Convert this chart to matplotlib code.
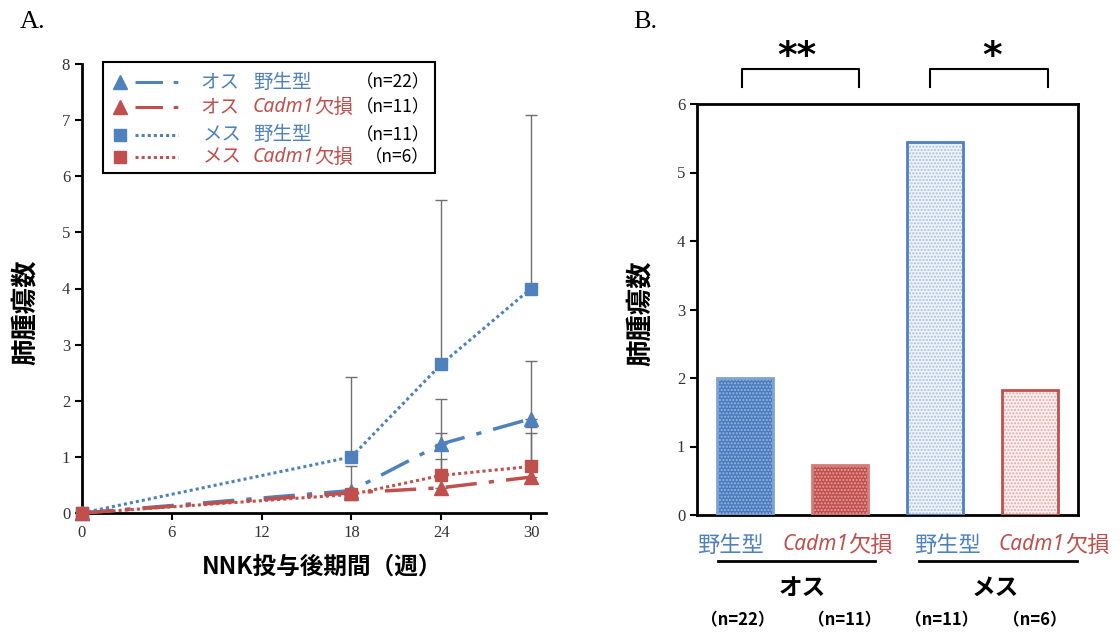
import matplotlib
matplotlib.use("Agg")
import matplotlib.pyplot as plt
from matplotlib.lines import Line2D
from matplotlib.patches import Rectangle
import numpy as np

plt.rcParams['font.family'] = ['Noto Sans CJK JP', 'DejaVu Sans']
plt.rcParams['hatch.linewidth'] = 1.0

# ---------------- data ----------------
weeks = [0, 18, 24, 30]
male_wt = [0, 0.40, 1.23, 1.68]
male_wt_err = [0, 0.44, 0.81, 1.02]
male_ko = [0, 0.36, 0.45, 0.64]
male_ko_err = [0, 0, 0.51, 0.78]
female_wt = [0, 1.00, 2.65, 4.00]
female_wt_err = [0, 1.42, 2.92, 3.10]
female_ko = [0, 0.33, 0.67, 0.83]
female_ko_err = [0, 0, 0.75, 0.70]
x_ticks = [0, 6, 12, 18, 24, 30]

bar_groups = ['オス', 'メス']
bar_labels = ['野生型', 'Cadm1欠損', '野生型', 'Cadm1欠損']
bar_values = [2.00, 0.73, 5.45, 1.82]
bar_n = ['（n=22）', '（n=11）', '（n=11）', '（n=6）']
legend_n = ['（n=22）', '（n=11）', '（n=11）', '（n=6）']

BLUE = '#4f81bd'
RED = '#c0504d'
W, H = 1120, 636
ITALIC_FAM = ['Noto Sans', 'DejaVu Sans']
DASHDOT = (9, 3.5, 1.5, 3.5)

fig = plt.figure(figsize=(W / 100, H / 100), dpi=100)

def fx(px):
    return px / W

def fy(py):
    return 1 - py / H

# ---------------- panel A ----------------
axA = fig.add_axes([fx(82), fy(513), (546 - 82) / W, (513 - 64) / H])
axA.set_xlim(0, 31)
axA.set_ylim(0, 8)
for s in ['top', 'right']:
    axA.spines[s].set_visible(False)
for s in ['left', 'bottom']:
    axA.spines[s].set_linewidth(2)
axA.set_xticks(x_ticks)
axA.set_yticks(range(0, 9))
axA.tick_params(direction='out', length=5, width=1.5, labelsize=12,
                colors='black', labelcolor='#333333')
for lab in axA.get_xticklabels() + axA.get_yticklabels():
    lab.set_family('Liberation Serif')

series = [
    (male_wt, male_wt_err, BLUE, '^', DASHDOT, 2.5, 10),
    (male_ko, male_ko_err, RED, '^', DASHDOT, 2.5, 10),
    (female_wt, female_wt_err, BLUE, 's', (1, 1), 2.2, 9),
    (female_ko, female_ko_err, RED, 's', (1, 1), 2.2, 9),
]
for vals, err, col, mk, dash, lw, ms in series:
    axA.errorbar(weeks, vals, yerr=[np.zeros(len(err)), err], fmt='none',
                 ecolor='#6f6f6f', elinewidth=1, capsize=4, capthick=1,
                 zorder=2, clip_on=False)
for vals, err, col, mk, dash, lw, ms in series:
    axA.plot(weeks, vals, color=col, marker=mk, markersize=ms, lw=lw,
             dashes=dash, zorder=3, clip_on=False)

# manual legend
def ax_x(px):
    return (px - 82) / 464

def ax_y(py):
    return (513 - py) / 449

axA.add_patch(Rectangle((ax_x(103), ax_y(173)), ax_x(435) - ax_x(103),
                        ax_y(62) - ax_y(173), transform=axA.transAxes,
                        fill=False, lw=1.5, ec='black', clip_on=False, zorder=5))
rows_py = [82, 107, 135, 157]
leg_sex = ['オス', 'オス', 'メス', 'メス']
leg_type = ['野生型', 'Cadm1欠損', '野生型', 'Cadm1欠損']
leg_col = [BLUE, RED, BLUE, RED]
leg_mk = ['^', '^', 's', 's']
leg_dash = [DASHDOT, DASHDOT, (1, 1), (1, 1)]
for i, py in enumerate(rows_py):
    yy = ax_y(py)
    axA.add_line(Line2D([ax_x(120)], [yy], marker=leg_mk[i], color=leg_col[i],
                        markersize=10 if leg_mk[i] == '^' else 9, ls='none',
                        transform=axA.transAxes, clip_on=False, zorder=6))
    axA.add_line(Line2D([ax_x(135), ax_x(178)], [yy, yy], color=leg_col[i],
                        lw=2.2, dashes=leg_dash[i], transform=axA.transAxes,
                        clip_on=False, zorder=6))
    sx = 200 if leg_sex[i] == 'オス' else 203
    axA.text(ax_x(sx), yy, leg_sex[i], color=leg_col[i], fontsize=14,
             va='center', ha='left', transform=axA.transAxes)
    if leg_type[i].startswith('Cadm1'):
        t1 = axA.text(ax_x(253), yy, 'Cadm1', color=leg_col[i], fontsize=14,
                      style='italic', family=ITALIC_FAM,
                      va='center', ha='left', transform=axA.transAxes)
        axA.annotate('欠損', xy=(1, 0.5), xycoords=t1, va='center', ha='left',
                     color=leg_col[i], fontsize=14)
    else:
        axA.text(ax_x(253), yy, leg_type[i], color=leg_col[i], fontsize=14,
                 va='center', ha='left', transform=axA.transAxes)
    axA.text(ax_x(430), yy, legend_n[i], color='black', fontsize=12.5,
             va='center', ha='right', transform=axA.transAxes)

fig.text(fx(25), fy(312), '肺腫瘍数', rotation=90, fontsize=19,
         fontweight='bold', ha='center', va='center')
fig.text(fx(322), fy(567), 'NNK投与後期間（週）', fontsize=17,
         fontweight='bold', ha='center', va='center')
fig.text(fx(20), fy(22), 'A.', fontsize=19, family='Liberation Serif',
         ha='left', va='center')

# ---------------- panel B ----------------
axB = fig.add_axes([fx(697), fy(515), (1078 - 697) / W, (515 - 104) / H])
pos = np.arange(len(bar_values))
axB.set_xlim(-0.5, 3.5)
axB.set_ylim(0, 6)
for s in axB.spines.values():
    s.set_linewidth(2)
axB.set_xticks([])
axB.set_yticks(range(0, 7))
axB.tick_params(axis='y', direction='out', length=5, width=1.5, labelsize=12,
                labelcolor='#333333')
for lab in axB.get_yticklabels():
    lab.set_family('Liberation Serif')

faces = ['#4a7bbd', '#c0504d', '#eef2f9', '#fbf0f0']
hatch_cols = ['#9bb8e0', '#e6a19f', '#a9c0e2', '#e6a8a6']
edges = ['#7ea2d6', '#d57b78', BLUE, RED]
bw = 0.59
for i in range(len(bar_values)):
    axB.bar(pos[i], bar_values[i], width=bw, color=faces[i], lw=0, zorder=2)
    axB.bar(pos[i], bar_values[i], width=bw, color='none',
            edgecolor=hatch_cols[i], hatch='.....', lw=0, zorder=3)
    axB.bar(pos[i], bar_values[i], width=bw, color='none',
            edgecolor=edges[i], lw=2, zorder=4)

# significance brackets
def bracket(x0, x1, label, label_x):
    ytop, ybot = 6.51, 6.25
    axB.plot([x0, x0, x1, x1], [ybot, ytop, ytop, ybot], color='black', lw=1.5,
             clip_on=False)
    axB.text(label_x, 6.43, label, ha='center', va='bottom', fontsize=27,
             fontweight='bold', family='DejaVu Sans', clip_on=False)

bracket(-0.03, 1.2, '**', 0.55)
bracket(1.95, 3.18, '*', 2.6)

fig.text(fx(640), fy(313), '肺腫瘍数', rotation=90, fontsize=19,
         fontweight='bold', ha='center', va='center')
fig.text(fx(633), fy(22), 'B.', fontsize=19, family='Liberation Serif',
         ha='left', va='center')

# category labels under bars
lab_cols = [BLUE, RED, BLUE, RED]
lab_start = [697, 782, 914, 999]
for i, lab in enumerate(bar_labels):
    if lab.startswith('Cadm1'):
        t1 = fig.text(fx(lab_start[i]), fy(545), 'Cadm1', color=lab_cols[i],
                      fontsize=15, style='italic', family=ITALIC_FAM,
                      ha='left', va='center')
        axB.annotate('欠損', xy=(1, 0.5), xycoords=t1, va='center', ha='left',
                     color=lab_cols[i], fontsize=16, annotation_clip=False)
    else:
        fig.text(fx(lab_start[i]), fy(545), lab, color=lab_cols[i], fontsize=16,
                 ha='left', va='center')

for (a, b) in [(718, 875), (919, 1077)]:
    fig.add_artist(Line2D([fx(a), fx(b)], [fy(561), fy(561)], color='black',
                          lw=2, transform=fig.transFigure))
fig.text(fx(802), fy(588), bar_groups[0], fontsize=17, fontweight='bold',
         ha='center', va='center')
fig.text(fx(995), fy(588), bar_groups[1], fontsize=17, fontweight='bold',
         ha='center', va='center')
n_x = [738, 845, 942, 1035]
for i, t in enumerate(bar_n):
    fig.text(fx(n_x[i]), fy(620), t, fontsize=12, fontweight='bold',
             ha='center', va='center')

fig.savefig('out.png', dpi=100)
